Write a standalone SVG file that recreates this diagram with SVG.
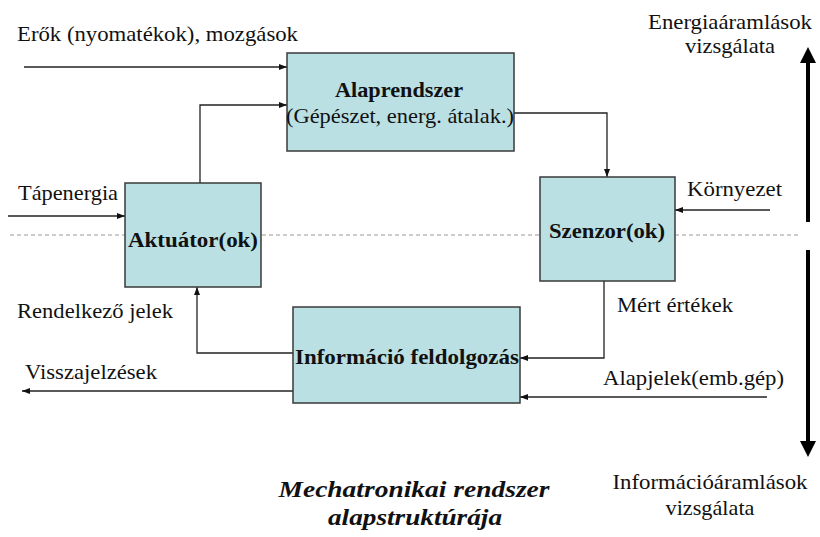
<svg xmlns="http://www.w3.org/2000/svg" width="820" height="537" viewBox="0 0 820 537">
<style>
.box{fill:#bae0e3;stroke:#3a3a3a;stroke-width:1.5}
text{font-family:'Liberation Serif','Times New Roman',Tinos,'Noto Serif','DejaVu Serif',serif;font-size:21px;fill:#111}
.b{font-weight:bold}
.c{text-anchor:middle}
.ti{font-style:italic;font-weight:bold;font-size:23px}
.ln{fill:none;stroke:#222;stroke-width:1.3}
.dash{stroke:#999;stroke-width:1.2;stroke-dasharray:4,3;fill:none}
</style>
<defs>
<marker id="ah" viewBox="0 0 8 8" refX="8" refY="4" markerWidth="8" markerHeight="8" markerUnits="userSpaceOnUse" orient="auto"><path d="M0,1 L8,4 L0,7 Z" fill="#111"/></marker>
</defs>
<rect width="820" height="537" fill="#fff"/>
<line class="dash" x1="10" y1="235" x2="800" y2="235"/>
<g id="connectors">
<path class="ln" d="M24,67 H287" marker-end="url(#ah)"/>
<path class="ln" d="M200,183 V105 H287" marker-end="url(#ah)"/>
<path class="ln" d="M514,113 H607 V177" marker-end="url(#ah)"/>
<path class="ln" d="M770,210 H675" marker-end="url(#ah)"/>
<path class="ln" d="M8,216 H125" marker-end="url(#ah)"/>
<path class="ln" d="M293,353 H197 V287" marker-end="url(#ah)"/>
<path class="ln" d="M293,391 H22" marker-end="url(#ah)"/>
<path class="ln" d="M604,281 V358 H520" marker-end="url(#ah)"/>
<path class="ln" d="M767,397 H520" marker-end="url(#ah)"/>
<line x1="808" y1="222" x2="808" y2="62" stroke="#000" stroke-width="4"/>
<path d="M800,63 L816,63 L808,47 Z" fill="#000"/>
<line x1="808" y1="250" x2="808" y2="442" stroke="#000" stroke-width="4"/>
<path d="M800,441 L816,441 L808,457 Z" fill="#000"/>
</g>
<g id="alaprendszer">
<rect class="box" x="287" y="53" width="227" height="98"/>
<text class="b c" x="399" y="97" textLength="128" lengthAdjust="spacingAndGlyphs">Alaprendszer</text>
<text class="c" x="400" y="123" textLength="228" lengthAdjust="spacingAndGlyphs">(Gépészet, energ. átalak.)</text>
</g>
<g id="aktuator">
<rect class="box" x="125" y="183" width="136" height="104"/>
<text class="b c" x="193" y="247" textLength="130" lengthAdjust="spacingAndGlyphs">Aktuátor(ok)</text>
</g>
<g id="szenzor">
<rect class="box" x="540" y="177" width="135" height="104"/>
<text class="b c" x="607" y="238" textLength="116" lengthAdjust="spacingAndGlyphs">Szenzor(ok)</text>
</g>
<g id="informacio">
<rect class="box" x="293" y="307" width="227" height="96"/>
<text class="b c" x="407" y="364" textLength="224" lengthAdjust="spacingAndGlyphs">Információ feldolgozás</text>
</g>
<g id="labels">
<text x="17" y="41" textLength="281" lengthAdjust="spacingAndGlyphs">Erők (nyomatékok), mozgások</text>
<text class="c" x="730" y="29" textLength="164" lengthAdjust="spacingAndGlyphs">Energiaáramlások</text>
<text class="c" x="730" y="53" textLength="90" lengthAdjust="spacingAndGlyphs">vizsgálata</text>
<text x="18" y="200" textLength="100" lengthAdjust="spacingAndGlyphs">Tápenergia</text>
<text x="687" y="196" textLength="95" lengthAdjust="spacingAndGlyphs">Környezet</text>
<text x="17" y="318" textLength="156" lengthAdjust="spacingAndGlyphs">Rendelkező jelek</text>
<text x="617" y="312" textLength="116" lengthAdjust="spacingAndGlyphs">Mért értékek</text>
<text x="25" y="379" textLength="132" lengthAdjust="spacingAndGlyphs">Visszajelzések</text>
<text x="603" y="385" textLength="181" lengthAdjust="spacingAndGlyphs">Alapjelek(emb.gép)</text>
<text class="c" x="710" y="489" textLength="195" lengthAdjust="spacingAndGlyphs">Információáramlások</text>
<text class="c" x="710" y="515" textLength="89" lengthAdjust="spacingAndGlyphs">vizsgálata</text>
<text class="ti c" x="414" y="497" textLength="271" lengthAdjust="spacingAndGlyphs">Mechatronikai rendszer</text>
<text class="ti c" x="415" y="525" textLength="174" lengthAdjust="spacingAndGlyphs">alapstruktúrája</text>
</g>
</svg>
